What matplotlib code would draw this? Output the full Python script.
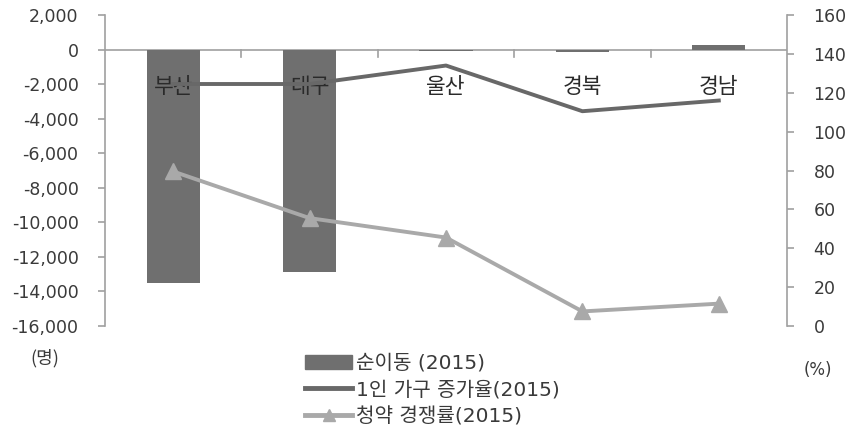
import matplotlib
matplotlib.use("Agg")
import matplotlib.pyplot as plt
from matplotlib.patches import Patch
from matplotlib.lines import Line2D

plt.rcParams['font.family'] = ['DejaVu Sans', 'Noto Sans CJK KR']

regions = ["부산", "대구", "울산", "경북", "경남"]
net_migration = [-13500, -12900, -100, -120, 250]
single_household_growth = [124.5, 124.5, 134, 110.5, 116]
subscription_rate = [79.5, 55.5, 45.5, 7.5, 11.5]

left_ticks = list(range(-16000, 2001, 2000))
right_ticks = list(range(0, 161, 20))

bar_color = "#6f6f6f"
line1_color = "#686868"
line2_color = "#a9a9a9"
axis_color = "#a0a0a0"
text_color = "#3a3a3a"

fig = plt.figure(figsize=(8.49, 4.30), dpi=100)
ax = fig.add_axes([105/849, 1-326/430, (787-105)/849, (326-15)/430])
ax2 = ax.twinx()

x = list(range(len(regions)))
ax.bar(x, net_migration, width=0.39, color=bar_color, zorder=2)
ax.set_ylim(-16000, 2000)
ax.set_xlim(-0.5, len(regions)-0.5)
ax.set_yticks(left_ticks)
ax.set_yticklabels([f"{v:,}" for v in left_ticks])
ax.set_xticks([])

ax2.plot(x, single_household_growth, color=line1_color, lw=2.8, zorder=3)
ax2.plot(x, subscription_rate, color=line2_color, lw=2.8, marker='^',
         markersize=11, zorder=4)
ax2.set_ylim(0, 160)
ax2.set_yticks(right_ticks)

# category axis at zero
ax.axhline(0, color=axis_color, lw=1.2, zorder=1)
for b in [i + 0.5 for i in range(len(regions)-1)]:
    ax.plot([b, b], [0, -450], color=axis_color, lw=1.2, zorder=1)
for i, r in enumerate(regions):
    ax.text(i, -2150, r, ha='center', va='center', fontsize=15.5,
            color="#2a2a2a", family=['Noto Sans CJK KR'], zorder=5)

for a in (ax, ax2):
    for s in ['top', 'bottom']:
        a.spines[s].set_visible(False)
ax.spines['right'].set_visible(False)
ax2.spines['left'].set_visible(False)
ax.spines['left'].set_color(axis_color)
ax.spines['left'].set_linewidth(1.2)
ax2.spines['right'].set_color(axis_color)
ax2.spines['right'].set_linewidth(1.2)
ax.tick_params(axis='y', colors=axis_color, labelcolor=text_color,
               labelsize=12.5, length=5, width=1.2, pad=14)
ax2.tick_params(axis='y', colors=axis_color, labelcolor=text_color,
                labelsize=12.5, length=5, width=1.2, pad=14)
ax.set_facecolor('none')
ax2.set_facecolor('none')

fig.text(45/849, 1-358/430, "(명)", ha='center', va='center', fontsize=13,
         color=text_color, family=['Noto Sans CJK KR', 'DejaVu Sans'])
fig.text(818/849, 1-370/430, "(%)", ha='center', va='center', fontsize=12,
         color=text_color)

handles = [Patch(color=bar_color),
           Line2D([], [], color=line1_color, lw=3.5),
           Line2D([], [], color=line2_color, lw=3.5, marker='^', markersize=9)]
labels = ["순이동 (2015)", "1인 가구 증가율(2015)", "청약 경쟁률(2015)"]
leg = fig.legend(handles, labels, loc='center left',
                 bbox_to_anchor=(305/849, 1-390/430), frameon=False,
                 handlelength=2.35, handletextpad=0.2, labelspacing=0.38,
                 prop={'family': ['DejaVu Sans', 'Noto Sans CJK KR'], 'size': 14.5},
                 borderaxespad=0, borderpad=0)
for t in leg.get_texts():
    t.set_color(text_color)

fig.savefig("out.png", dpi=100)
